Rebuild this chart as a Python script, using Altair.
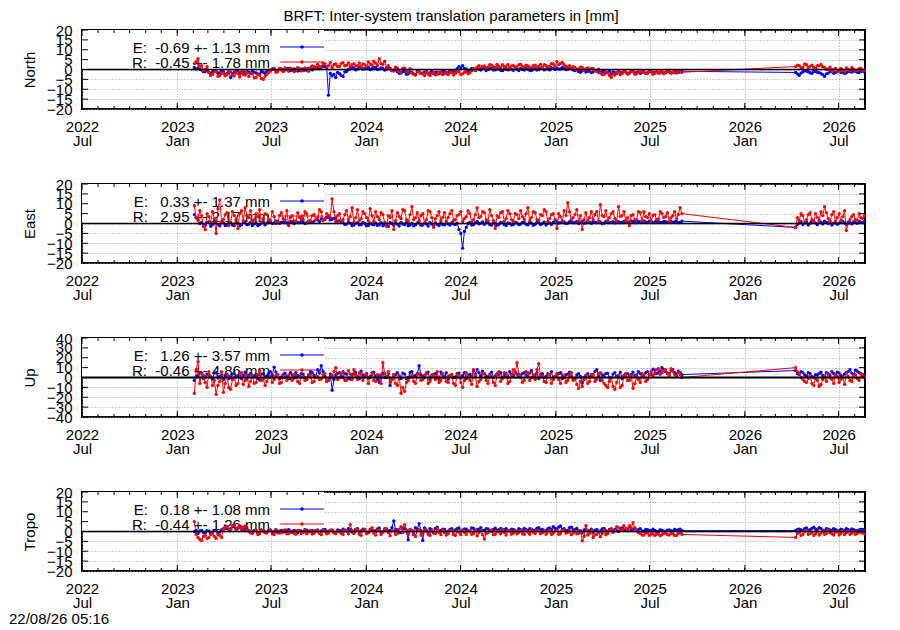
import altair as alt
import pandas as pd

FONT = "Liberation Sans"
W, H = 783, 79

# ---------------- data ----------------
# two interleaved weekly sample sets per series ("a" and "b", half a week apart);
# "1" = first segment, "2" = second segment after the data gap
SEG1_START = "2023-02-03"
SEG2_START = "2026-04-09"

north_E_a1 = [1.0, 0.5, -0.3, -1.0, -1.5, -1.2, -0.8, -1.6, -1.1, -2.0,
              -4.0, -1.5, -1.0, -1.8, -2.2, -1.3, -0.9, -1.7, -2.4, -1.5,
              -1.0, -0.4, 0.2, -0.5, 0.3, -0.2, 0.5, -0.3, 0.1, -0.6,
              0.2, -0.4, 0.4, 0.6, 1.2, 0.8, 1.5, -13.0, -3.2, -4.0,
              -2.0, -3.5, -1.0, 0.3, 0.8, 0.2, 1.0, 0.5, 1.2, 0.4,
              0.9, 0.2, 0.7, 0.0, 0.6, -0.5, -1.2, -1.8, -1.0, -2.2,
              -1.5, -2.6, -1.2, -1.8, -1.0, -1.6, -2.0, -1.3, -1.7, -1.1,
              -1.5, -0.8, -0.5, 1.5, 2.0, 0.3, -0.4, 0.2, 0.5, -0.3,
              0.4, 0.0, 0.6, -0.2, 0.3, -0.6, 0.1, 0.5, -0.4, 0.2,
              0.6, -0.3, 0.2, -0.5, 0.4, 0.0, 0.7, 0.2, -0.2, 0.5,
              0.8, 0.3, 0.6, 0.1, 0.4, -0.5, -1.0, -0.6, -1.3, -0.8,
              -1.2, -0.7, -1.5, -1.0, -1.4, -2.2, -1.6, -1.1, -1.8, -1.3,
              -1.7, -1.0, -1.5, -2.0, -1.2, -1.6, -0.9, -1.4, -1.8, -1.1,
              -1.5, -1.0, -1.3, -0.8, -1.2]
north_E_a2 = [-1.5, -3.0, -1.2, -0.8, -1.6, -1.0, -1.4, -2.0, -3.5, -1.8,
              -1.0, -1.5, -0.9, -1.3, -1.7, -1.1, -0.8, -1.4, -1.0, -1.2]
north_E_b1 = [0.2, 0.0, -1.2, -0.4, -2.0, -0.6, -1.8, -1.0, -2.5, -1.3,
              -2.2, -0.8, -1.9, -1.2, -1.0, -2.0, -1.5, -2.2, -1.0, -1.9,
              -0.5, 0.3, -0.6, 0.4, -0.4, 0.6, -0.5, 0.3, -0.8, 0.2,
              -0.3, 0.5, -0.2, 1.0, 0.4, 1.6, 0.9, -2.0, -2.5, -1.5,
              -3.0, -1.2, 0.0, 1.0, -0.2, 1.2, 0.3, 0.9, 0.0, 1.1,
              0.1, 0.8, -0.3, 0.9, -0.6, -0.2, -2.0, -1.0, -2.4, -1.4,
              -2.2, -1.0, -2.0, -1.3, -2.3, -0.9, -1.5, -2.1, -0.8, -1.8,
              -0.9, -1.6, 0.4, 0.8, 0.6, -0.5, 0.6, -0.6, 0.1, 0.6,
              -0.5, 0.5, -0.3, 0.7, -0.4, 0.3, -0.2, 0.0, 0.6, -0.5,
              0.1, 0.5, -0.4, 0.3, -0.3, 0.6, -0.2, 0.4, 0.9, 0.1,
              0.2, 1.0, -0.1, 0.7, -0.3, 0.2, -1.4, -0.3, -0.9, -1.6,
              -0.6, -1.4, -0.9, -1.8, -0.7, -1.2, -2.0, -1.5, -0.9, -2.0,
              -1.1, -1.8, -1.2, -1.4, -2.1, -1.0, -1.7, -1.1, -1.3, -1.9,
              -0.9, -1.6, -1.1, -1.5, -0.9]
north_E_b2 = [-2.2, -1.8, -0.6, -1.2, -2.0, -0.9, -1.6, -2.6, -2.2, -1.2,
              -1.9, -1.1, -1.5, -2.0, -0.9, -1.3, -1.0, -1.6, -0.8]
north_R_a1 = [3.0, 5.5, 2.0, 0.0, -1.5, -2.5, -1.0, -3.0, -1.8, -2.6,
              -1.2, -3.2, -2.0, -1.0, -2.8, -3.5, -2.2, -4.0, -3.0, -5.0,
              -2.5, -0.8, 0.5, -1.2, -0.3, 0.8, -0.9, 0.2, -0.5, 0.6,
              -0.6, 0.3, 0.9, 1.5, 2.6, 1.2, 3.0, 2.0, 1.0, 2.8,
              1.5, 3.5, 2.2, 1.4, 3.0, 2.0, 1.2, 2.5, 3.8, 2.2,
              3.2, 5.5, 2.6, 1.0, 0.2, -0.8, 0.5, -1.5, 0.8, -0.5,
              -1.8, -2.8, -1.0, -2.2, -1.4, -3.0, -1.6, -2.4, -1.2, -2.0,
              -2.6, -1.5, -2.0, -1.2, -2.2, -1.0, -1.6, 0.5, 1.2, 0.8,
              1.8, 1.2, 2.2, 1.0, 1.6, 2.4, 1.4, 0.9, 2.0, 1.5,
              2.6, 1.2, 1.8, 0.8, 2.2, 1.5, 1.0, 2.0, 1.6, 2.8,
              4.0, 3.0, 2.4, 1.2, 0.5, 0.9, 0.2, 1.0, 0.4, -0.2,
              0.6, -1.0, -1.8, -2.5, -1.6, -4.0, -2.8, -1.5, -2.0, -1.2,
              -1.8, -1.0, -2.2, -1.5, -0.8, -1.9, -1.2, -2.0, -1.4, -1.0,
              -1.6, -0.8, -1.3, -1.8, -1.0]
north_R_a2 = [1.5, 2.0, 1.0, 2.4, 1.6, 1.2, 2.0, 2.6, 1.0, 0.2,
              -0.8, 0.5, -1.0, -0.3, 0.8, -0.6, 0.2, -0.4, 0.6, -0.2]
north_R_b1 = [4.0, 1.0, -0.5, 1.5, -3.0, -1.2, -3.5, -2.0, -3.2, -0.8,
              -2.8, -1.5, -3.8, -2.5, -1.5, -2.0, -4.2, -2.5, -4.5, -3.5,
              -1.5, 0.2, -1.4, 0.6, -1.0, 0.0, 0.7, -1.1, 0.9, -0.7,
              0.8, -0.9, 1.8, 0.6, 1.5, 3.2, 1.4, 3.5, 2.4, 1.6,
              3.0, 1.8, 3.4, 2.6, 1.8, 3.4, 2.8, 1.4, 2.8, 4.2,
              2.0, 3.0, 4.2, 2.0, -0.5, 1.2, -1.0, 0.6, -1.2, 0.4,
              -2.5, -1.2, -2.0, -3.2, -2.0, -1.8, -2.8, -1.5, -2.6, -1.4,
              -1.6, -2.8, -1.0, -2.5, -1.5, -2.2, -0.6, -0.5, 2.0, 1.6,
              0.8, 2.4, 1.5, 2.6, 0.8, 1.4, 2.6, 1.8, 1.0, 2.4,
              1.4, 2.2, 1.0, 2.0, 1.2, 2.6, 2.4, 1.2, 3.0, 1.8,
              2.5, 3.6, 1.6, 2.0, 1.4, -0.2, 1.2, -0.4, 0.8, 0.6,
              -0.6, 0.2, -2.6, -1.2, -3.0, -2.2, -1.6, -2.6, -1.0, -2.4,
              -1.0, -2.4, -1.3, -0.8, -2.0, -1.2, -2.4, -1.0, -1.8, -2.2,
              -1.0, -2.0, -1.6, -0.8, -1.4]
north_R_b2 = [2.2, 0.8, 2.8, 1.0, 2.2, 0.6, 1.8, 1.4, 0.0, 1.2,
              0.0, -1.2, 0.6, -0.9, 0.0, 1.0, -0.8, 0.4, -0.6]

east_E_a1 = [4.5, 2.0, 0.5, -1.0, 0.8, -0.5, 1.2, -1.2, 0.3, -0.8,
             0.6, -1.0, 0.2, -0.6, 0.9, -0.3, -1.1, 0.4, -0.5, 0.7,
             0.2, 0.8, 0.3, 1.0, 0.5, 0.9, 0.2, 0.7, 1.1, 0.4,
             0.6, 0.3, 0.9, 1.2, 1.8, 2.5, 2.0, 3.0, 2.2, 2.8,
             1.5, 0.5, -0.3, 0.2, -0.8, 0.4, -0.6, 0.0, -1.0, -0.4,
             0.3, -0.7, -1.2, -0.2, 0.5, -0.9, -0.3, 0.6, -0.5, -1.1,
             0.2, -0.6, 0.4, -0.8, -0.2, 0.5, -1.0, -0.4, 0.3, -0.7,
             -0.2, 0.4, -0.5, -3.0, -12.5, -2.0, 0.5, -0.6, 1.0, 0.2,
             -0.4, 0.6, -0.8, 0.1, -0.5, 0.4, -1.0, 0.0, -0.6, 0.3,
             -0.3, 0.5, -0.7, 0.2, -0.4, 0.6, 0.0, -0.8, 0.3, 0.6,
             1.0, 0.4, 0.8, 0.2, 1.2, 0.5, 0.0, 0.9, 0.3, 0.7,
             1.1, 0.4, 0.8, 0.2, 1.0, 0.6, 0.3, 0.9, 0.5, 1.2,
             0.7, 1.0, 0.4, 0.9, 1.3, 0.6, 1.0, 0.8, 1.2, 0.5,
             0.9, 1.1, 0.6, 1.0, 0.5]
east_E_a2 = [-2.0, 0.3, -0.5, 0.8, 0.2, 1.0, -0.6, 0.5, 1.2, 0.0,
             -0.8, 0.6, 0.2, 1.0, -0.4, 0.4, 0.8, 0.1, 0.7, 1.0]
east_E_b1 = [3.0, 0.0, -0.8, 0.6, -1.4, 0.9, -0.4, 0.5, -1.0, 0.2,
             -0.8, 0.5, -1.2, 0.8, -0.6, 0.6, -0.2, -1.0, 0.3, -0.7,
             0.9, 0.0, 1.2, 0.1, 0.8, 0.3, 1.0, 0.0, 0.6, 1.0,
             0.0, 1.1, 0.5, 2.0, 1.0, 1.6, 3.2, 1.8, 2.6, 1.2,
             0.8, -0.5, 0.6, -1.0, 0.1, -0.7, 0.5, -1.2, 0.2, -0.6,
             -0.9, 0.4, -0.5, -1.5, -0.1, 0.2, -1.3, -0.2, 0.4, -0.8,
             -1.2, 0.3, -0.9, 0.2, -1.3, -0.3, 0.3, -1.1, -0.5, 0.4,
             -0.8, -0.3, 0.2, -5.0, -4.0, 0.0, -0.8, 0.4, -0.2, 0.8,
             0.5, -0.6, 0.3, -0.9, 0.6, -0.5, 0.3, -0.7, 0.5, -0.5,
             0.6, -0.4, 0.4, -0.9, 0.5, -0.5, 0.7, 0.1, -0.5, 1.0,
             0.2, 1.1, 0.0, 0.9, 0.4, 1.0, 0.6, 0.2, 1.0, 0.1,
             0.6, 1.0, 0.0, 1.1, 0.4, 0.9, 1.2, 0.4, 1.0, 0.6,
             1.3, 0.5, 1.1, 0.6, 0.8, 1.2, 0.4, 1.1, 0.6, 1.0,
             0.6, 1.3, 0.8, 0.4, 1.2]
east_E_b2 = [-0.5, 0.9, 0.2, -0.8, 1.1, 0.3, 0.9, -0.2, 0.6, 1.0,
             0.2, -0.4, 0.9, 0.3, 0.7, -0.2, 0.5, 1.2, 0.4]
east_R_a1 = [9.0, 1.5, 4.0, -3.0, 3.5, 6.0, -5.0, 12.0, 2.0, 5.5,
             0.5, 4.0, -2.5, 6.5, 8.0, 3.0, 1.0, 5.0, 7.0, 2.5,
             4.5, 1.5, 3.5, 0.5, 5.5, 2.0, -1.0, 4.0, 1.0, 3.0,
             2.0, 5.0, 1.5, 4.5, 3.0, 6.0, 2.5, 4.0, 12.5, 1.0,
             5.0, 2.0, 6.5, 3.5, 0.5, 7.0, 2.5, 5.0, 1.5, 4.0,
             6.0, 2.0, 4.5, -1.5, 3.0, -3.0, 5.5, 2.5, 6.5, 1.0,
             8.5, 3.0, 1.5, 5.0, 2.0, 6.0, -2.0, 4.0, 1.5, 5.5,
             3.0, 6.5, 2.0, 4.5, 1.0, 3.5, 5.0, 2.0, 8.0, 3.5,
             5.5, 1.5, 4.0, -2.5, 3.0, 6.0, 2.5, 5.0, 1.0, 4.5,
             6.5, 2.0, 8.0, 3.0, 5.5, 1.5, 4.0, 6.0, 2.5, 5.0,
             -2.5, 3.5, 6.5, 10.5, 2.0, 4.5, 1.0, -3.0, 5.5, 3.0,
             2.0, 6.0, 9.5, 3.5, 1.5, 5.0, 2.5, 8.5, 4.0, 1.5,
             -1.0, 4.5, 2.0, 5.5, 6.0, 3.0, 1.5, 4.5, 2.5, 5.0,
             3.5, 1.0, 4.0, 2.5, 8.0]
east_R_a2 = [-2.0, 1.5, 4.0, 2.0, 5.5, 0.5, 3.0, 6.0, 8.5, 2.5,
             4.5, 1.0, 5.0, 3.5, -3.5, 2.0, 4.5, 1.5, 3.0, 4.0]
east_R_b1 = [3.0, 6.5, -1.5, 5.0, 0.5, 2.5, 7.5, 1.0, 4.5, -1.0,
             6.0, 2.0, 5.0, 1.5, 4.0, 6.5, 2.0, 3.5, 0.5, 5.0,
             2.0, 6.0, 0.0, 4.0, 2.5, 6.5, 3.0, 1.5, 5.5, 2.5,
             6.0, 1.0, 4.0, 2.0, 7.0, 1.5, 5.0, 3.0, 6.0, 4.0,
             1.0, 4.5, 2.0, 8.0, 3.0, 1.5, 6.0, 3.0, 7.5, 1.0,
             3.5, 5.5, 0.5, 4.0, 6.5, 1.5, 3.5, 7.0, 2.0, 4.5,
             2.0, 5.5, 4.0, 0.0, 6.5, 3.0, 2.5, 6.0, 3.0, 1.0,
             5.0, 1.5, 4.0, 6.0, 2.5, 6.5, 0.5, 4.5, 3.0, 6.0,
             2.0, 7.0, 1.5, 4.0, 5.5, 1.0, 6.5, 2.0, 5.0, 2.5,
             3.5, 5.0, 1.5, 6.0, 2.0, 4.5, 7.0, 1.0, 4.5, 2.0,
             5.0, 1.0, 4.0, 6.0, 3.0, 7.0, 4.0, 2.0, 1.5, 6.0,
             4.5, 1.0, 4.0, 6.5, 3.0, 6.0, 1.0, 3.5, 6.0, 3.0,
             4.0, 2.0, 6.0, 1.0, 3.5, 5.0, 4.0, 2.0, 6.0, 3.0,
             5.5, 3.0, 6.0, 4.5, 5.0]
east_R_b2 = [3.0, 5.0, 0.5, 4.5, 2.0, 5.0, 1.5, 4.0, 5.5, 1.0,
             6.0, 3.0, 1.5, 6.5, 0.0, 3.5, 2.0, 5.0, 2.5]

up_E_a1 = [-3.0, 2.0, 4.5, 0.5, 3.0, -1.5, 5.0, 1.0, -2.0, 3.5,
           0.0, 4.0, 1.5, -1.0, 5.5, 2.0, 0.5, 3.0, -2.5, 4.0,
           1.5, 6.0, 10.5, 3.0, 0.5, 4.5, -1.0, 2.5, 5.0, 1.0,
           3.5, -2.0, 6.0, 2.0, 8.0, 12.0, 1.5, -3.0, -13.0, 2.5,
           5.0, 0.0, 3.5, -1.5, 4.0, 1.0, 6.5, 2.0, -0.5, 3.0,
           1.5, -5.0, 4.5, 0.5, -8.0, 2.5, 5.0, -1.0, 3.5, 0.0,
           6.0, 2.0, 12.0, 1.5, 4.0, -2.0, 3.0, 0.5, 5.5, 1.0,
           -1.5, 3.0, 0.5, 4.5, 2.0, -1.0, 3.5, 6.5, 8.0, 2.0,
           4.0, 0.5, 5.5, 1.5, 3.0, -0.5, 4.5, 6.0, 2.0, 3.5,
           0.0, 5.0, 1.5, 7.0, 2.5, -1.0, 4.0, 1.0, 3.0, -2.0,
           2.5, 5.0, 0.5, 3.5, 1.5, -1.5, 4.0, -5.5, 2.0, 0.5,
           3.0, 8.0, -3.0, 1.5, 4.5, 0.0, 5.0, 2.0, -1.0, 3.5,
           1.0, 5.5, 2.5, 4.0, 0.5, 6.0, 3.0, 7.5, 5.0, 10.0,
           6.0, 4.0, 8.0, 3.5, 5.0]
up_E_a2 = [7.0, 3.0, 5.0, 1.5, 4.0, 0.0, 2.5, 5.5, 1.0, 3.5,
           6.0, 2.0, 4.5, 0.5, 5.0, 8.0, 3.0, 6.5, 4.0, 2.5]
up_E_b1 = [1.0, 5.0, -1.0, 3.5, 1.0, 4.5, -0.5, 3.0, 2.0, -1.0,
           3.5, 0.5, 4.5, 2.0, -1.5, 4.0, 1.5, -1.0, 3.5, 0.5,
           4.0, 2.0, 5.5, -1.0, 3.0, 1.0, 5.0, -0.5, 2.0, 4.0,
           0.0, 3.0, 5.0, 1.0, 4.5, 6.0, -4.0, 3.5, -2.0, 4.0,
           1.5, 4.0, -0.5, 3.0, 5.5, -1.0, 2.5, 4.0, 1.0, 5.5,
           -2.0, 2.5, 0.0, 4.0, -2.0, 3.0, 1.0, 4.5, -1.0, 5.0,
           1.0, 4.0, 3.0, 0.0, 5.5, 1.5, 4.0, -1.5, 3.0, 5.0,
           2.0, 0.0, 4.0, -0.5, 5.0, 2.0, 1.0, 4.0, 5.0, 6.5,
           1.5, 3.5, 0.0, 4.0, 5.0, 2.0, 0.0, 3.5, 5.5, 1.0,
           4.0, 2.5, 4.5, 1.0, 5.0, 3.0, 0.0, 3.5, 6.0, 1.0,
           4.0, -1.0, 3.0, 5.5, -1.5, 2.5, 1.0, 0.0, 4.0, 2.0,
           6.0, 1.5, 3.0, 4.0, -0.5, 3.5, 1.0, 5.5, 2.0, 4.0,
           3.0, 2.0, 6.0, 1.5, 5.0, 3.0, 8.5, 4.0, 6.5, 8.0,
           4.5, 7.0, 5.0, 6.5, 3.0]
up_E_b2 = [4.0, 6.0, 2.5, 5.0, 1.0, 3.0, 4.0, 2.0, 5.0, 1.5,
           4.0, 5.5, 2.0, 3.5, 6.0, 4.5, 7.5, 5.0, 3.0]
up_R_a1 = [-16.0, 16.0, 4.0, -5.0, 6.0, -8.0, -17.0, -4.0, -15.0, 3.0,
           -12.0, 0.0, -6.0, 5.0, -3.0, -9.0, 2.0, -5.0, 7.0, -2.0,
           -4.0, 1.0, -2.0, 3.0, -5.0, 0.0, 2.5, -3.0, 1.5, -6.0,
           0.5, -2.0, 3.0, -4.0, 1.0, -1.5, 4.0, -3.0, 2.0, 10.0,
           0.0, 6.0, -3.0, 3.5, 8.0, -2.0, 4.0, 1.0, -6.0, 5.0,
           -4.0, 2.0, 15.0, 0.0, -5.0, 3.0, -8.0, -16.0, -14.0, -3.0,
           2.0, -6.0, 4.0, -2.0, 5.0, -4.0, 1.0, 6.0, -3.0, 0.0,
           -5.0, 3.0, -8.0, 2.0, -10.0, 5.0, -3.0, 8.0, -9.0, -2.0,
           4.0, -6.0, 1.0, -8.0, 6.0, -1.0, 3.0, -4.0, 8.0, 15.0,
           2.0, -3.0, 5.0, 0.0, -2.0, 14.0, 1.0, -5.0, 3.0, -2.0,
           4.0, -6.0, 1.0, -3.0, 5.0, -1.0, -11.0, -9.0, 2.0, -4.0,
           3.0, -2.0, 5.0, -6.0, -10.0, 0.0, -12.0, 2.0, -8.0, 4.0,
           -3.0, -11.0, 1.0, -5.0, 3.0, -2.0, 6.0, 4.0, 9.0, 5.0,
           8.0, 2.0, 6.0, 1.0, 3.0]
up_R_a2 = [10.0, 4.0, -2.0, -5.0, 2.0, -8.0, -3.0, -7.0, 1.0, 4.0,
           -2.0, 3.0, -5.0, 0.0, 5.0, -3.0, 2.0, -1.0, 4.0, 0.0]
up_R_b1 = [8.0, -6.0, 2.0, -10.0, 1.0, -3.0, -8.0, 6.0, -6.0, -10.0,
           -2.0, -8.0, 4.0, -7.0, 2.0, -4.0, -6.0, 3.0, -3.0, -8.0,
           0.0, -5.0, 2.0, -6.0, 1.0, -3.0, -1.0, 3.0, -4.0, 1.0,
           -3.0, 2.0, -5.0, 1.0, -2.0, 3.0, -4.0, 0.0, 6.0, -2.0,
           4.0, -3.0, 7.0, -2.0, 2.0, 5.0, -3.0, 3.0, 0.0, -3.0,
           3.0, -6.0, 4.0, 6.0, -2.0, -6.0, 2.0, -10.0, -5.0, 1.0,
           -4.0, 3.0, -3.0, 2.0, -6.0, 3.0, -2.0, -5.0, 4.0, -4.0,
           2.0, -6.0, 3.0, -5.0, -3.0, 1.0, -7.0, 2.0, -4.0, 4.0,
           -3.0, 2.0, -5.0, 3.0, -4.0, 5.0, -6.0, 2.0, 5.0, 3.0,
           -5.0, 6.0, -3.0, 3.0, 8.0, 2.0, -4.0, 4.0, -6.0, 1.0,
           -2.0, 3.0, -5.0, 2.0, -3.0, -7.0, -4.0, -2.0, -6.0, 3.0,
           -4.0, 4.0, -3.0, -8.0, -4.0, -9.0, -5.0, -10.0, 1.0, -3.0,
           2.0, -6.0, -2.0, 4.0, -4.0, 3.0, 2.0, 8.0, 3.0, 7.0,
           4.0, 9.0, 3.0, 5.0, 0.0]
up_R_b2 = [6.0, 0.0, -4.0, -1.0, -6.0, -1.0, -9.0, -2.0, -4.0, 0.0,
           -6.0, 1.0, -2.0, -7.0, 1.0, -4.0, 3.0, -3.0, 2.0]

tropo_E_a1 = [0.0, -1.0, 0.5, -0.5, 0.2, -0.8, 0.4, -0.3, 1.5, 2.5,
              1.2, 3.0, 1.8, 2.2, 1.0, 0.4, -0.3, 0.6, -0.5, 0.3,
              -0.2, 0.8, 0.1, -0.6, 0.5, 0.0, 0.9, -0.4, 0.3, 0.6,
              -0.1, 0.7, 0.2, -0.5, 0.8, 0.3, 1.0, 0.0, 0.5, -0.3,
              0.6, 1.2, 0.2, 0.9, -0.4, 1.5, 0.3, 0.8, -0.6, 1.0,
              0.4, 1.8, 0.0, 1.2, 0.5, 5.4, 0.8, -0.5, 1.5, -4.2,
              0.6, 2.0, 4.0, -4.5, 0.3, 1.4, -0.8, 2.2, 0.5, 1.0,
              0.2, 1.5, 0.8, 1.8, 0.4, 1.2, 0.0, 1.6, 0.9, 2.0,
              0.5, 1.3, 0.2, 1.7, 0.8, 0.3, 1.5, 0.6, 1.1, 0.1,
              0.9, 1.6, 0.4, 1.2, 0.7, 2.0, 1.0, 0.3, 1.8, 2.5,
              1.2, 2.8, 1.5, 0.6, 2.2, 1.0, 0.2, -0.8, 1.4, 0.5,
              -0.4, 1.0, 0.3, 1.6, -0.2, 0.8, 1.2, 0.0, 1.8, 0.6,
              2.2, 1.0, 0.4, 1.5, 0.2, 0.9, 0.3, 0.6, -0.2, 0.5,
              0.0, 0.8, 0.2, 0.6, 1.2]
tropo_E_a2 = [0.5, 1.2, 0.6, 1.8, 1.0, 2.2, 0.8, 1.5, 0.4, 1.2,
              0.6, 1.0, 0.2, 0.8, 1.4, 0.5, 0.9, 0.3, 1.1, 0.6]
tropo_E_b1 = [0.5, 0.3, -0.6, 0.4, -1.0, 0.6, -0.5, 0.8, 2.8, 1.2,
              2.5, 1.0, 2.6, 0.8, 1.8, -0.2, 0.5, -0.6, 0.8, -0.3,
              0.6, -0.5, 0.9, 0.2, -0.3, 0.7, -0.2, 0.5, -0.6, 0.2,
              0.9, -0.2, 0.6, 0.4, -0.2, 0.9, 0.1, 0.7, -0.4, 0.8,
              -0.3, 0.5, 1.4, -0.2, 1.0, 0.0, 1.2, -0.3, 0.7, 0.2,
              1.3, -0.4, 1.0, 0.3, 2.0, 1.0, -0.6, 1.8, 0.2, 1.0,
              -1.5, 1.2, 0.5, 1.8, -0.6, 0.8, 1.6, 0.2, 1.2, -0.3,
              1.0, 0.3, 1.5, 0.1, 1.3, 0.6, 1.8, 0.4, 1.2, 0.6,
              1.4, 0.4, 1.0, 0.5, 1.6, 1.0, 0.2, 1.2, 0.4, 1.5,
              0.3, 1.0, 1.4, 0.5, 1.6, 0.8, 0.4, 1.5, 0.9, 1.6,
              2.2, 1.0, 0.5, 2.0, 0.8, 1.6, -0.4, 0.8, 0.2, 1.2,
              0.6, -0.2, 1.3, 0.4, 1.0, 0.2, 0.6, 1.4, 0.8, 1.2,
              0.8, 1.6, 0.9, 0.2, 1.0, 0.5, 1.2, 0.0, 0.9, 0.2,
              0.7, 0.3, 1.0, 0.9, 0.4]
tropo_E_b2 = [1.0, 0.8, 1.5, 0.6, 1.6, 1.2, 2.0, 0.6, 1.4, 0.8,
              1.5, 0.4, 1.2, 0.6, 0.9, 1.3, 0.4, 0.8, 1.0]
tropo_R_a1 = [5.0, -3.0, -4.5, -2.0, -3.0, -1.0, -3.5, -2.0, 1.0, 2.5,
              1.5, 3.5, 2.0, 1.0, 2.8, 0.0, -1.0, 0.5, -1.2, 0.3,
              -0.8, 0.6, -1.5, 0.2, -0.6, 0.8, -1.0, 0.0, -1.4, 0.4,
              -0.5, -1.2, 0.6, -0.9, 0.3, -1.6, 0.2, -0.7, 0.8, -1.1,
              0.0, -1.5, 0.5, 3.5, -1.0, 0.8, -2.0, 1.2, -0.6, 2.0,
              -1.8, 0.6, -0.4, 1.5, -2.2, 0.3, -1.0, 2.5, 3.5, -1.5,
              0.5, -2.5, 1.0, -1.2, 0.8, -2.0, 0.0, 1.5, -1.6, -0.5,
              -1.2, 0.6, -2.0, -0.4, 0.8, -1.5, 0.2, -1.0, -2.2, 0.5,
              -3.8, -0.6, 0.8, -1.4, -0.2, 1.0, -1.8, 0.3, -0.8, -1.2,
              0.5, -1.5, -0.3, 0.9, -1.0, 0.2, -0.6, -1.4, 0.6, -0.8,
              0.4, -1.2, 0.8, -0.5, -1.6, 0.2, -0.9, -4.7, 3.0, -1.0,
              -3.0, -1.5, -2.6, 0.5, -1.0, 1.5, 0.3, 2.0, 0.8, 1.6,
              3.0, 4.5, 0.5, -1.0, -1.8, -0.6, -1.5, -2.0, -1.2, -1.6,
              -0.8, -1.8, -1.2, -2.0, -0.5]
tropo_R_a2 = [-3.0, -0.5, -1.5, 0.5, -1.0, -2.0, 0.2, -0.8, -1.5, 0.8,
              -1.2, -0.3, -1.8, 0.5, -0.6, -1.4, 0.0, -1.0, -0.4, -1.2]
tropo_R_b1 = [-1.5, -4.0, -2.5, -3.5, -1.5, -2.5, -1.5, -3.0, 2.0, 0.5,
              3.0, 1.5, 3.0, 2.0, 0.5, -0.8, 0.2, -1.5, 0.6, -0.6,
              0.2, -1.2, 0.4, -0.8, 0.5, -1.2, 0.3, -0.9, 0.6, -1.0,
              0.4, 0.0, -1.3, 0.5, -1.0, 0.4, -1.2, 0.5, -0.8, 0.2,
              -1.0, 0.8, -1.2, 0.5, 1.0, -1.4, 0.5, -1.2, 1.2, -0.8,
              0.8, -1.5, 1.4, -0.6, 0.5, -1.5, 1.2, -0.4, 0.8, 1.0,
              -1.5, 0.2, -1.8, 0.6, -1.5, 0.4, -1.0, -0.4, 0.8, -1.8,
              0.4, -1.5, 0.2, -1.6, -0.4, 0.5, -1.4, 0.6, -0.6, -1.6,
              -1.0, 0.5, -1.6, 0.2, -1.2, -0.4, 0.6, -1.4, 0.4, -0.4,
              -1.2, 0.4, -1.4, -0.4, 0.6, -1.2, 0.4, -0.2, -1.5, 0.2,
              -1.4, 0.6, -0.8, 0.4, -0.8, -1.2, 0.5, -2.5, -1.8, 0.5,
              -1.8, 0.2, -1.0, -1.6, 0.5, -0.5, 2.5, 0.5, 3.0, 0.4,
              1.8, 2.0, -0.5, -1.8, -0.8, -2.0, -1.0, -1.4, -2.2, -0.9,
              -1.6, -1.0, -2.0, -1.0, -1.5]
tropo_R_b2 = [-1.0, -2.0, 0.0, -1.5, -0.5, -1.2, -1.8, 0.2, -1.0, -0.6,
              -1.8, 0.0, -1.0, -1.6, 0.3, -0.8, -1.5, -0.2, -0.8]

# legend statistics (mean, sigma) per panel
north_stats = {"E": (-0.69, 1.13), "R": (-0.45, 1.78)}
east_stats = {"E": (0.33, 1.37), "R": (2.95, 2.17)}
up_stats = {"E": (1.26, 3.57), "R": (-0.46, 4.86)}
tropo_stats = {"E": (0.18, 1.08), "R": (-0.44, 1.26)}

major_ticks = ["2022-07-01", "2023-01-01", "2023-07-01", "2024-01-01", "2024-07-01",
               "2025-01-01", "2025-07-01", "2026-01-01", "2026-07-01"]
minor_ticks = [d.strftime("%Y-%m-%d") for d in pd.date_range("2022-08-01", "2026-08-01", freq="MS")]
x_start = (2022, 7, 1)
x_end = (2026, 8, 21)

TITLE = "BRFT: Inter-system translation parameters in [mm]"
STAMP = "22/08/26 05:16"

# ---------------- chart ----------------
X_DOMAIN = [alt.DateTime(year=x_start[0], month=x_start[1], date=x_start[2]),
            alt.DateTime(year=x_end[0], month=x_end[1], date=x_end[2])]
MAJOR_DT = [alt.DateTime(year=int(s[:4]), month=int(s[5:7]), date=1) for s in major_ticks]
major_df = pd.DataFrame({"t": pd.to_datetime(major_ticks)})
minor_df = pd.DataFrame({"t": pd.to_datetime(minor_ticks)})
one = pd.DataFrame({"k": [0]})
HALF_WEEK = pd.Timedelta(hours=84)


def series_df(a1, a2, b1, b2):
    parts = []
    for vals, start in [(a1, pd.Timestamp(SEG1_START)), (b1, pd.Timestamp(SEG1_START) + HALF_WEEK),
                        (a2, pd.Timestamp(SEG2_START)), (b2, pd.Timestamp(SEG2_START) + HALF_WEEK)]:
        d = pd.date_range(start, periods=len(vals), freq="7D")
        parts.append(pd.DataFrame({"date": d, "v": vals}))
    return pd.concat(parts).sort_values("date").reset_index(drop=True)


def make_panel(name, E, R, lim, step, stats, zero_w, top=False, bottom=False):
    xscale = alt.Scale(domain=X_DOMAIN)
    yscale = alt.Scale(domain=[-lim, lim], nice=False, zero=False)
    yticks = list(range(-lim, lim + 1, step))
    x_axis = alt.Axis(values=MAJOR_DT, grid=True, gridDash=[1, 2], gridColor="#a0a0a0",
                      gridWidth=1, ticks=False, tickSize=0, domain=False, title=None,
                      labelExpr="[timeFormat(datum.value, '%Y'), timeFormat(datum.value, '%b')]",
                      labelPadding=10, labelLineHeight=14.5, labelFlush=False,
                      labelOverlap=False, labelAngle=0, labelAlign="center")
    y_axis = alt.Axis(values=yticks, grid=True, gridDash=[1, 2], gridColor="#a0a0a0",
                      gridWidth=1, ticks=False, tickSize=0, domain=False, title=name,
                      labelPadding=10, labelOverlap=False, labelFlush=False,
                      titlePadding=9)

    def X(field):
        return alt.X(field, scale=xscale, axis=x_axis)

    def Y(field):
        return alt.Y(field, scale=yscale, axis=y_axis)

    layers = []
    # opaque key box
    layers.append(alt.Chart(one).mark_rect(color="white").encode(
        x=alt.value(0), x2=alt.value(242), y=alt.value(0), y2=alt.value(40)))
    # key entries
    for i, (lab, col) in enumerate([("E", "#0000ff"), ("R", "#ff0000")]):
        yy = 17 + 15 * i
        m, s = stats[lab]
        txt = f"{lab}: {m:6.2f} +- {s:4.2f} mm".replace(" ", "\u00a0")
        layers.append(alt.Chart(one).mark_text(align="right", baseline="middle", font=FONT,
                                               fontSize=15, color="black").encode(
            x=alt.value(188), y=alt.value(yy + 0.5), text=alt.value(txt)))
        layers.append(alt.Chart(one).mark_rule(color=col, strokeWidth=1).encode(
            x=alt.value(198), x2=alt.value(242), y=alt.value(yy)))
        layers.append(alt.Chart(one).mark_circle(color=col, size=12, opacity=1).encode(
            x=alt.value(220), y=alt.value(yy)))
    # data series
    for df, col in [(series_df(*E), "#0000ff"), (series_df(*R), "#ff0000")]:
        layers.append(alt.Chart(df).mark_line(color=col, strokeWidth=1).encode(
            x=X("date:T"), y=Y("v:Q")))
        layers.append(alt.Chart(df).mark_circle(color=col, size=11, opacity=1).encode(
            x=X("date:T"), y=Y("v:Q")))
    # zero axis
    layers.append(alt.Chart(pd.DataFrame({"v": [0]})).mark_rule(color="black", strokeWidth=zero_w).encode(
        y=Y("v:Q")))
    # inward ticks on the time axis
    for dfm, ln in [(major_df, 6), (minor_df, 3)]:
        layers.append(alt.Chart(dfm).mark_rule(color="black", strokeWidth=1).encode(
            x=X("t:T"), y=alt.value(H), y2=alt.value(H - ln)))
        layers.append(alt.Chart(dfm).mark_rule(color="black", strokeWidth=1).encode(
            x=X("t:T"), y=alt.value(0), y2=alt.value(ln)))
    # inward ticks on the value axis
    ydf = pd.DataFrame({"v": yticks})
    layers.append(alt.Chart(ydf).mark_rule(color="black", strokeWidth=1).encode(
        y=Y("v:Q"), x=alt.value(0), x2=alt.value(6)))
    layers.append(alt.Chart(ydf).mark_rule(color="black", strokeWidth=1).encode(
        y=Y("v:Q"), x=alt.value(W - 6), x2=alt.value(W)))
    if top:
        layers.append(alt.Chart(one).mark_text(align="center", baseline="alphabetic", font=FONT,
                                               fontSize=15, color="black").encode(
            x=alt.value(369), y=alt.value(-9), text=alt.value(TITLE)))
    if bottom:
        layers.append(alt.Chart(one).mark_text(align="left", baseline="alphabetic", font=FONT,
                                               fontSize=15, color="black").encode(
            x=alt.value(-73), y=alt.value(132), text=alt.value(STAMP)))
    return alt.layer(*layers).properties(width=W, height=H)


p1 = make_panel("North", (north_E_a1, north_E_a2, north_E_b1, north_E_b2),
                (north_R_a1, north_R_a2, north_R_b1, north_R_b2), 20, 5, north_stats, 1.5, top=True)
p2 = make_panel("East", (east_E_a1, east_E_a2, east_E_b1, east_E_b2),
                (east_R_a1, east_R_a2, east_R_b1, east_R_b2), 20, 5, east_stats, 1.5)
p3 = make_panel("Up", (up_E_a1, up_E_a2, up_E_b1, up_E_b2),
                (up_R_a1, up_R_a2, up_R_b1, up_R_b2), 40, 10, up_stats, 2)
p4 = make_panel("Tropo", (tropo_E_a1, tropo_E_a2, tropo_E_b1, tropo_E_b2),
                (tropo_R_a1, tropo_R_a2, tropo_R_b1, tropo_R_b2), 20, 5, tropo_stats, 1.5, bottom=True)

chart = alt.vconcat(p1, p2, p3, p4, spacing=75, bounds="flush").properties(
    padding={"left": 0, "top": 0, "right": 5, "bottom": 0}
).configure_view(
    stroke="black", strokeWidth=2
).configure_axis(
    labelFont=FONT, titleFont=FONT, labelFontSize=15, titleFontSize=15,
    titleFontWeight="normal", labelColor="black", titleColor="black"
)

chart.save("out.html", embed_options={"renderer": "svg", "actions": False})
